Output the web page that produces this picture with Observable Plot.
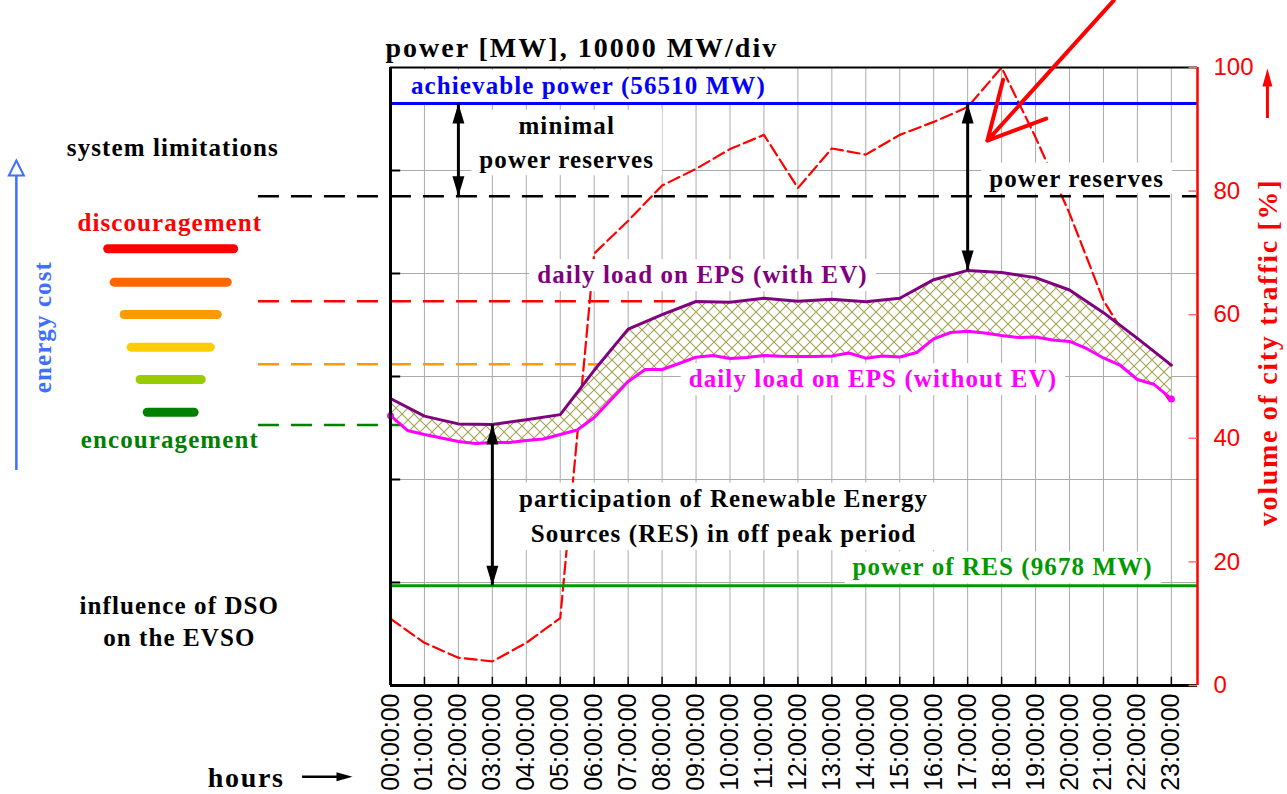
<!DOCTYPE html>
<html><head><meta charset="utf-8">
<script src="https://cdn.jsdelivr.net/npm/d3@7"></script>
<script src="https://cdn.jsdelivr.net/npm/@observablehq/plot@0.6"></script>
<style>html,body{margin:0;padding:0;background:#fff;overflow:hidden}</style>
</head><body><div id="chart"></div>
<script>
// ---------------- data ----------------
const hours = [0,1,2,3,4,5,6,7,8,9,10,11,12,13,14,15,16,17,18,19,20,21,22,23];
const tickLabels = ["00:00:00","01:00:00","02:00:00","03:00:00","04:00:00","05:00:00","06:00:00","07:00:00",
  "08:00:00","09:00:00","10:00:00","11:00:00","12:00:00","13:00:00","14:00:00","15:00:00","16:00:00",
  "17:00:00","18:00:00","19:00:00","20:00:00","21:00:00","22:00:00","23:00:00"];
// daily load on EPS with EV [MW], hourly
const loadWithEV = [27860,26150,25400,25340,25800,26300,30600,34600,36000,37280,37200,37600,
  37300,37500,37250,37600,39400,40300,40100,39600,38400,36200,33700,31100];
// daily load on EPS without EV [MW], every half hour from 00:00 to 23:00
const loadNoEV = [26200,24760,24370,24030,23690,23500,23590,23590,23790,23930,24370,24810,
  26020,27770,29510,30680,30680,31260,31880,32040,31750,31840,32040,31970,31940,31940,
  31990,32280,31780,31990,31890,32330,33660,34270,34390,34220,33980,33790,33830,33540,
  33400,32720,31800,31070,29710,29220,27820];
// volume of city traffic [%], hourly
const trafficPct = [10.8,6.9,4.5,3.9,6.9,10.9,69.9,75.2,80.9,83.6,86.8,89.1,80.5,86.9,85.9,89.1,
  91.2,93.6,100,88.7,76.4,62.3,53.4,45.7];
const achievablePower = 56510;
const resPower = 9678;
const powerGrid = [10000,20000,30000,40000,50000];
const trafficTicks = [0,20,40,60,80,100];
// energy-cost threshold levels [MW]
const levelValues = [47500, 37300, 31200, 25300];
const levelColors = ["#000000", "#ff0000", "#ff9900", "#008000"];
const levelEndHours = [23.77, 8.45, 7.48, 2.42];
const costBarColors = ["#ff0000","#ff6600","#ff9900","#ffcc00","#99cc00","#008000"];

// ---------------- layout constants ----------------
const X_MAX = 23.77;
const Y_MAX = 60000;
const TRAFFIC_TO_MW = Y_MAX / 100;
const LEFT_START = -3.89;
const serif = "Liberation Serif, 'Times New Roman', serif";
const sans = "Liberation Sans, Arial, sans-serif";

// ---------------- derived tables ----------------
const withEV = hours.map((h, i) => ({h, v: loadWithEV[i]}));
const noEV = loadNoEV.map((v, i) => ({h: i / 2, v}));
const traffic = hours.map((h, i) => ({h, v: trafficPct[i] * TRAFFIC_TO_MW}));
function withEVAt(h) {
  const i = Math.min(Math.floor(h), loadWithEV.length - 2), t = h - i;
  return loadWithEV[i] * (1 - t) + loadWithEV[i + 1] * t;
}
const band = noEV.map(d => ({h: d.h, lo: d.v, hi: withEVAt(d.h)}));
const levels = levelValues.map((v, i) => ({v, color: levelColors[i], end: levelEndHours[i]}));
const costBars = [
  {v: 42400, w: 3.71}, {v: 39160, w: 3.33}, {v: 36020, w: 2.74},
  {v: 32850, w: 2.33}, {v: 29710, w: 1.80}, {v: 26530, w: 1.38}
].map((d, i) => ({...d, color: costBarColors[i]}));
const BAR_CENTER = -6.46;

const doubleArrows = [
  {h: 2, top: achievablePower, bottom: levelValues[0]},
  {h: 17, top: achievablePower, bottom: loadWithEV[17]},
  {h: 3, top: loadWithEV[3], bottom: resPower}
];

// arrow-head symbols: tip at the data point
const head = (dx, dy, hw, len) => ({draw(ctx) {
  const px = -dy, py = dx;
  ctx.moveTo(0, 0);
  ctx.lineTo(-dx * len + px * hw, -dy * len + py * hw);
  ctx.lineTo(-dx * len - px * hw, -dy * len - py * hw);
  ctx.closePath();
}});
const headUp = head(0, -1, 6, 20), headDown = head(0, 1, 6, 20);
const smallUp = head(0, -1, 5, 18), smallRight = head(1, 0, 4.5, 16);
const openUp = head(0, -1, 7.5, 15);

const textSpecs = [
  {t: "achievable power (56510 MW)", h: 5.83, v: 58220, fill: "#0000ff", box: true},
  {t: "minimal\npower reserves", h: 5.19, v: 52960, fill: "#000000", box: true, lh: 1.38},
  {t: "power reserves", h: 20.21, v: 49220, fill: "#000000", box: true},
  {t: "daily load on EPS (with EV)", h: 9.19, v: 39840, fill: "#800080", box: true},
  {t: "daily load on EPS (without EV)", h: 14.21, v: 29740, fill: "#ff00ff", box: true},
  {t: "participation of Renewable Energy\nSources (RES) in off peak period", h: 9.81, v: 16750, fill: "#000000", box: true, lh: 1.42},
  {t: "power of RES (9678 MW)", h: 18.03, v: 11460, fill: "#009900", box: true},
  {t: "power [MW], 10000 MW/div", h: -0.15, v: 61870, fill: "#000000", size: 28, ls: 2, anchor: "start"},
  {t: "system limitations", h: -6.41, v: 52230, fill: "#000000"},
  {t: "discouragement", h: -6.50, v: 44950, fill: "#ff0000"},
  {t: "encouragement", h: -6.50, v: 23820, fill: "#008000"},
  {t: "influence of DSO\non the EVSO", h: -6.22, v: 6360, fill: "#000000", lh: 1.26},
  {t: "hours", h: -4.25, v: -9030, fill: "#000000", size: 28, ls: 1.7},
  {t: "energy cost", h: -10.24, v: 34790, fill: "#3f6fff", rotate: -90},
  {t: "volume of city traffic [%]", h: 25.86, v: 32330, fill: "#ff0000", size: 28, ls: 1.7, rotate: -90}
];
const textMarks = textSpecs.map(s => Plot.text([s], {
  x: "h", y: "v", text: "t", fill: s.fill,
  fontFamily: serif, fontWeight: "bold", fontSize: s.size || 25,
  lineHeight: s.lh || 1, rotate: s.rotate || 0, textAnchor: s.anchor || "middle",
  ariaLabel: () => (s.box ? "boxed" : "plain") + "|" + (s.ls ?? 1.1)
}));

const chart = Plot.plot({
  width: 1287, height: 794,
  marginLeft: 390, marginRight: 90, marginTop: 67, marginBottom: 109,
  x: {domain: [0, X_MAX]},
  y: {domain: [0, Y_MAX]},
  color: {type: "identity"},
  style: {background: "white", overflow: "visible"},
  marks: [
    Plot.ruleX(hours.slice(1), {stroke: "#aaaaaa", strokeWidth: 1}),
    Plot.ruleY(powerGrid, {stroke: "#aaaaaa", strokeWidth: 1}),
    Plot.line(traffic, {x: "h", y: "v", stroke: "#ff0000", strokeWidth: 2.2, strokeDasharray: "12,5"}),
    Plot.ruleY(levels, {y: "v", x1: LEFT_START, x2: "end", stroke: "color", strokeWidth: 2.5, strokeDasharray: "21,12",
      ariaLabel: () => "levels"}),
    Plot.areaY(band, {x: "h", y1: "lo", y2: "hi", fill: "url(#hatch)"}),
    Plot.line(withEV, {x: "h", y: "v", stroke: "#800080", strokeWidth: 3}),
    Plot.line(noEV, {x: "h", y: "v", stroke: "#ff00ff", strokeWidth: 3}),
    Plot.dot([noEV[0], noEV[noEV.length - 1]], {x: "h", y: "v", r: 3.5, fill: "#ff00ff"}),
    Plot.ruleY([achievablePower], {stroke: "#0000ff", strokeWidth: 3}),
    Plot.ruleY([resPower], {stroke: "#009900", strokeWidth: 3}),
    // frame
    Plot.ruleY([Y_MAX], {stroke: "#000", strokeWidth: 2}),
    Plot.ruleY([0], {stroke: "#000", strokeWidth: 3}),
    Plot.ruleX([0], {stroke: "#000", strokeWidth: 3}),
    Plot.ruleX([X_MAX], {stroke: "#ff0000", strokeWidth: 2.5}),
    // inner ticks
    Plot.ruleY(powerGrid, {x1: 0, x2: 0.3, stroke: "#000", strokeWidth: 2}),
    Plot.ruleX(hours.slice(1), {y1: 0, y2: 800, stroke: "#000", strokeWidth: 1.5}),
    Plot.ruleY(trafficTicks.map(v => v * TRAFFIC_TO_MW), {x1: X_MAX - 0.25, x2: X_MAX, stroke: "#ff7070", strokeWidth: 1.5}),
    // axes
    Plot.axisX({ticks: hours, tickFormat: d => tickLabels[d], tickRotate: -90, tickSize: 0, tickPadding: 8,
      fontSize: 25, fontFamily: sans, fill: "#000", label: null}),
    Plot.axisY({anchor: "right", ticks: trafficTicks.map(v => v * TRAFFIC_TO_MW),
      tickFormat: d => String(Math.round(d / TRAFFIC_TO_MW)), tickSize: 0, tickPadding: 16,
      fontSize: 24, fontFamily: sans, fill: "#ff0000", label: null}),
    // double arrows
    Plot.ruleX(doubleArrows, {x: "h", y1: "top", y2: "bottom", stroke: "#000", strokeWidth: 3}),
    Plot.dot(doubleArrows, {x: "h", y: "top", symbol: headUp, r: 5, fill: "#000", stroke: "none"}),
    Plot.dot(doubleArrows, {x: "h", y: "bottom", symbol: headDown, r: 5, fill: "#000", stroke: "none"}),
    // red pointer arrow at top
    Plot.arrow([{x1: 21.3, y1: 66500, x2: 17.58, y2: 52900}], {x1: "x1", y1: "y1", x2: "x2", y2: "y2",
      stroke: "#ff0000", strokeWidth: 4, headLength: 24, headAngle: 55}),
    // right small red arrow
    Plot.ruleX([{h: 25.83, a: 55050, b: 58500}], {x: "h", y1: "a", y2: "b", stroke: "#ff0000", strokeWidth: 3}),
    Plot.dot([{h: 25.83, v: 59900}], {x: "h", y: "v", symbol: smallUp, r: 5, fill: "#ff0000", stroke: "none"}),
    // hours arrow
    Plot.ruleY([{v: -8850, a: -2.59, b: -1.4}], {y: "v", x1: "a", x2: "b", stroke: "#000", strokeWidth: 2.5}),
    Plot.dot([{h: -1.12, v: -8850}], {x: "h", y: "v", symbol: smallRight, r: 5, fill: "#000", stroke: "none"}),
    // energy cost arrow
    Plot.ruleX([{h: -11.02, a: 20870, b: 49500}], {x: "h", y1: "a", y2: "b", stroke: "#3f6fff", strokeWidth: 2.5}),
    Plot.dot([{h: -11.02, v: 50970}], {x: "h", y: "v", symbol: openUp, r: 5, fill: "white", stroke: "#3f6fff", strokeWidth: 2}),
    // cost bars
    Plot.ruleY(costBars, {y: "v", x1: d => BAR_CENTER - d.w / 2, x2: d => BAR_CENTER + d.w / 2,
      stroke: "color", strokeWidth: 9, strokeLinecap: "round"}),
    ...textMarks
  ]
});
document.getElementById("chart").appendChild(chart);

// hatch pattern
const ns = "http://www.w3.org/2000/svg";
const defs = document.createElementNS(ns, "defs");
const pat = document.createElementNS(ns, "pattern");
pat.setAttribute("id", "hatch");
pat.setAttribute("patternUnits", "userSpaceOnUse");
pat.setAttribute("width", "12");
pat.setAttribute("height", "12");
const bg = document.createElementNS(ns, "rect");
bg.setAttribute("width", "12"); bg.setAttribute("height", "12"); bg.setAttribute("fill", "#ffffff");
const hp = document.createElementNS(ns, "path");
hp.setAttribute("d", "M-1,-1L13,13M13,-1L-1,13");
hp.setAttribute("stroke", "#a3a352"); hp.setAttribute("stroke-width", "1.1"); hp.setAttribute("fill", "none");
pat.appendChild(bg); pat.appendChild(hp); defs.appendChild(pat);
chart.insertBefore(defs, chart.firstChild);

// letter spacing and white label boxes
chart.querySelectorAll('text[aria-label*="|"]').forEach(t => {
  t.setAttribute("letter-spacing", t.getAttribute("aria-label").split("|")[1]);
});
const svgRect = chart.getBoundingClientRect();
const boxG = document.createElementNS(ns, "g");
chart.querySelectorAll('text[aria-label^="boxed"]').forEach(t => {
  const r = t.getBoundingClientRect();
  const rect = document.createElementNS(ns, "rect");
  rect.setAttribute("x", r.left - svgRect.left - 8);
  rect.setAttribute("y", r.top - svgRect.top - 2);
  rect.setAttribute("width", r.width + 16);
  rect.setAttribute("height", r.height + 4);
  rect.setAttribute("fill", "#ffffff");
  boxG.appendChild(rect);
});
const levelEl = chart.querySelector('[aria-label="levels"]');
if (levelEl) {
  const levelsG = levelEl.closest("g") || levelEl;
  levelsG.parentNode.insertBefore(boxG, levelsG);
}
</script>
</body></html>
